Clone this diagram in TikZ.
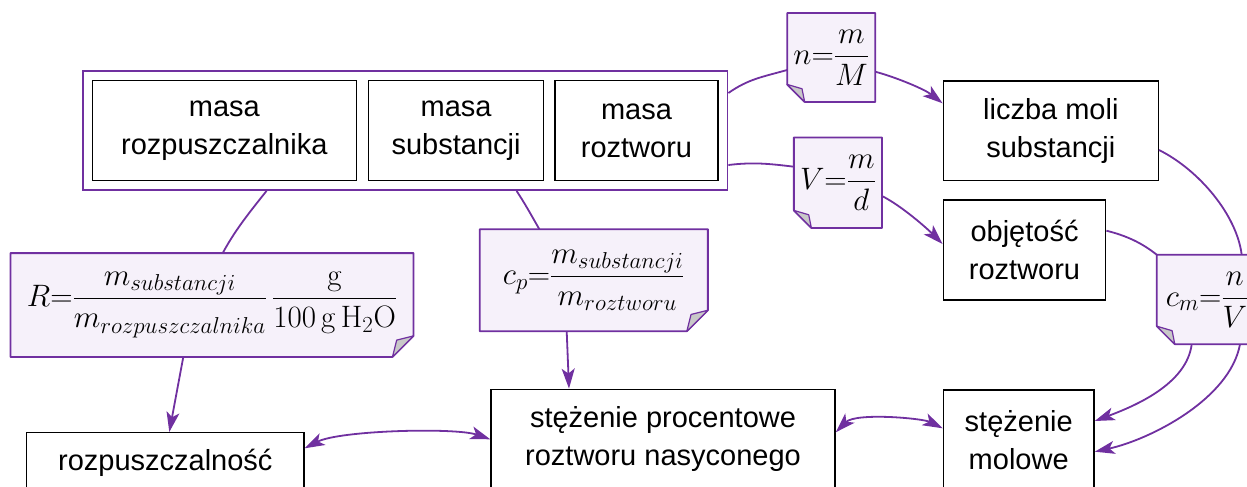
\RequirePackage{fix-cm}
\documentclass[tikz,border=0pt]{standalone}
\usepackage{amsmath}
\usepackage[no-math]{fontspec}
\setmainfont{Liberation Sans}
\usepackage{xcolor}
\usetikzlibrary{positioning,fit,backgrounds,arrows.meta}
\DeclareMathSizes{31}{31}{23}{18}

\definecolor{fiolet}{HTML}{7030A0}
\definecolor{notatka}{HTML}{F6F1FA}
\definecolor{zagiecie}{HTML}{C8C8C8}

% note with the corner folded at the bottom left
\newcommand{\notatkaLD}[2]{%
  \draw[fiolet, line width=1.8pt, fill=notatka, line join=round]
    (#1.north west) -- (#1.north east) -- (#1.south east)
    -- ([xshift=#2]#1.south west) -- ([yshift=#2]#1.south west) -- cycle;
  \draw[fiolet, line width=1.2pt, fill=zagiecie, line join=round]
    ([xshift=#2]#1.south west) -- ([xshift=0.85*#2, yshift=0.75*#2]#1.south west)
    -- ([yshift=#2]#1.south west) -- cycle;
}
% note with the corner folded at the bottom right
\newcommand{\notatkaPD}[2]{%
  \draw[fiolet, line width=1.8pt, fill=notatka, line join=round]
    (#1.north west) -- (#1.north east) -- ([yshift=#2]#1.south east)
    -- ([xshift=-#2]#1.south east) -- (#1.south west) -- cycle;
  \draw[fiolet, line width=1.2pt, fill=zagiecie, line join=round]
    ([yshift=#2]#1.south east) -- ([xshift=-0.8*#2, yshift=0.8*#2]#1.south east)
    -- ([xshift=-#2]#1.south east) -- cycle;
}

\begin{document}
\begin{tikzpicture}[x=1pt, y=-1pt,
					node distance=10pt,
					>={Stealth[length=20pt, width=13pt, inset=5pt]},
					wielkosc/.style={rectangle, draw=black, line width=1.4pt, align=center,
						minimum height=99.6pt, inner sep=0pt, font=\fontsize{29}{38}\selectfont},
					wzor/.style={rectangle, inner sep=0pt, font=\fontsize{31}{38}\selectfont},
					lacze/.style={draw=fiolet, line width=1.8pt}
					]
					\useasboundingbox (0,0) rectangle (1247,487);
					\clip (0,0) rectangle (1247,487);
					\node[wielkosc, minimum width=264pt] (mR) at (224.3,130.5) {masa\\rozpuszczalnika};
					\node[wielkosc, minimum width=175.3pt] (mS) [right=10.7pt of mR] {masa\\substancji};
					\node[wielkosc, minimum width=162.7pt] (mRR) [right=of mS] {masa\\roztworu};
					\node[draw=fiolet, line width=1.8pt, inner sep=9pt, fit=(mR) (mRR)] (M) {};
					\node[wielkosc, minimum width=215pt] (n) at (1050.8,130.7) {liczba moli\\substancji};
					\node[wielkosc, minimum width=162.4pt, minimum height=100pt] (V) at (1024.5,250) {objętość\\roztworu};
					\node[wielkosc, minimum width=150.7pt, minimum height=100pt] (Cm) at (1018.7,440) {stężenie\\molowe};
					\node[wielkosc, minimum width=344pt, minimum height=100pt] (Cp) at (663,439.3) {stężenie procentowe\\roztworu nasyconego};
					\node[wielkosc, minimum width=277.3pt, minimum height=60pt] (R) at (165.3,462.7) {rozpuszczalność};
					% formulas
					\node[wzor, minimum width=402.6pt, minimum height=103.4pt] (fR) at (212,305)
						{$R{=}\dfrac{m_{substancji}}{m_{rozpuszczalnika}}\,\dfrac{\mathrm{g}}{\mathrm{100\,g\,H_2O}}$};
					\node[wzor, minimum width=227.7pt, minimum height=101.7pt] (fCp) at (593.8,280.2)
						{$c_p{=}\dfrac{m_{substancji}}{m_{roztworu}}$};
					\node[wzor, minimum width=87.7pt, minimum height=88.4pt] (fn) at (831.2,57.5) {$n{=}\dfrac{m}{M}$};
					\node[wzor, minimum width=87.7pt, minimum height=90pt] (fV) at (837.9,182.7) {$V{=}\dfrac{m}{d}$};
					\node[wzor, minimum width=100pt, minimum height=89pt] (fCm) at (1207,299.5) {$c_m{=}\dfrac{n}{V}$};
					\begin{scope}[on background layer]
						\notatkaPD{fR}{21pt}
						\notatkaPD{fCp}{21pt}
						\notatkaLD{fn}{17.5pt}
						\notatkaLD{fV}{17.5pt}
						\notatkaLD{fCm}{18pt}
					\end{scope}
					\draw[lacze] ([xshift=-138.5pt]M.south) .. controls +(-20,25) and +(12,-22) .. ([xshift=10.7pt]fR.north);
					\draw[lacze] ([xshift=111.5pt]M.south) .. controls +(8,12) and +(-8,-14) .. ([xshift=-54.5pt]fCp.north);
					\draw[lacze, ->] ([xshift=-28.7pt]fR.south) -- ([xshift=4pt]R.north);
					\draw[lacze, ->] ([xshift=-27.1pt]fCp.south) -- ([xshift=-94pt]Cp.north);
					\draw[lacze] ([yshift=37.5pt]M.east) .. controls +(20,-14) and +(-25,7) .. ([yshift=-12.5pt]fn.west);
					\draw[lacze, ->] ([yshift=-14.2pt]fn.east) .. controls +(22,6) and +(-18,-14) .. ([yshift=27.4pt]n.west);
					\draw[lacze] ([yshift=-34.5pt]M.east) .. controls +(25,-3) and +(-25,-3) .. ([yshift=16pt]fV.west);
					\draw[lacze, ->] ([yshift=-13.3pt]fV.east) .. controls +(20,10) and +(-15,-15) .. ([yshift=6pt]V.west);
					\draw[lacze] ([yshift=-19.3pt]n.east) .. controls +(40,20) and +(-5,-40) .. ([xshift=34.7pt]fCm.north);
					\draw[lacze] ([yshift=19.3pt]V.east) .. controls +(20,5) and +(-15,-12) .. (fCm.north west);
					\draw[lacze, ->] ([xshift=-15.3pt]fCm.south) .. controls +(-5,40) and +(40,-15) .. ([yshift=19pt]Cm.east);
					\draw[lacze, ->] ([xshift=33pt]fCm.south) .. controls +(-10,55) and +(55,-12) .. ([yshift=-11.7pt]Cm.east);
					\draw[lacze, <->] ([yshift=14.4pt]R.east) .. controls +(35,-18) and +(-35,-12) .. (Cp.west);
					\draw[lacze, <->] ([yshift=7pt]Cp.east) .. controls +(20,-20) and +(-20,-10) .. ([yshift=11.7pt]Cm.west);
				\end{tikzpicture}
\end{document}
